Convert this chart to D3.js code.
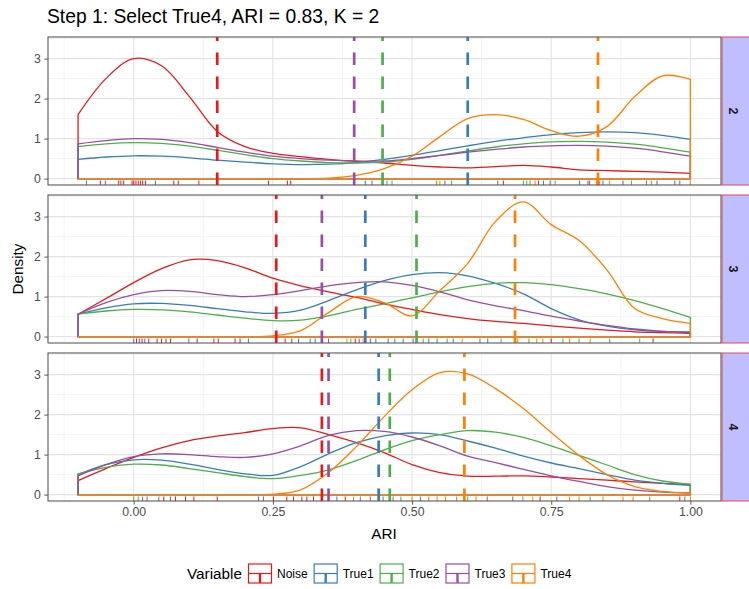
<!DOCTYPE html>
<html>
<head>
<meta charset="utf-8">
<script src="https://cdn.jsdelivr.net/npm/d3@7"></script>
<style>
  body { margin: 0; background: #fff; }
  svg { display: block; font-family: "Liberation Sans", Arial, Helvetica, sans-serif; }
</style>
</head>
<body>
<svg id="chart" width="749" height="589"></svg>
<script>
// ARI densities per K (facets).
const facets = ["2", "3", "4"];
const variables = ["Noise", "True1", "True2", "True3", "True4"];
const palette = ["#E41A1C", "#377EB8", "#4DAF4A", "#984EA3", "#FF7F00"];
const xTicks = [0, 0.25, 0.5, 0.75, 1.0];
const xTickLabels = ["0.00", "0.25", "0.50", "0.75", "1.00"];
const yTicks = [0, 1, 2, 3];

// ARI values at which the density curves were read
const ariGrid = [-0.1, -0.05, 0, 0.05, 0.1, 0.15, 0.2, 0.25, 0.3, 0.35, 0.4, 0.45,
    0.5, 0.55, 0.6, 0.65, 0.7, 0.75, 0.8, 0.85, 0.9, 0.95, 1.0];

// K = 2
const k2Noise = [1.6, 2.5, 3.0, 2.82, 2.05, 1.18, 0.8, 0.63, 0.55, 0.48, 0.43, 0.39, 0.33, 0.29, 0.27, 0.3, 0.33, 0.29, 0.22, 0.2, 0.18, 0.16, 0.13];
const k2True1 = [0.48, 0.54, 0.57, 0.56, 0.52, 0.46, 0.41, 0.37, 0.35, 0.36, 0.4, 0.48, 0.58, 0.7, 0.82, 0.93, 1.02, 1.1, 1.15, 1.17, 1.15, 1.08, 0.98];
const k2True2 = [0.8, 0.87, 0.9, 0.88, 0.81, 0.71, 0.6, 0.5, 0.44, 0.4, 0.39, 0.41, 0.48, 0.58, 0.69, 0.79, 0.87, 0.92, 0.93, 0.91, 0.86, 0.77, 0.66];
const k2True3 = [0.87, 0.95, 1.0, 0.98, 0.9, 0.78, 0.66, 0.56, 0.5, 0.46, 0.44, 0.44, 0.5, 0.58, 0.66, 0.73, 0.79, 0.82, 0.83, 0.81, 0.76, 0.67, 0.56];
const k2True4 = [0, 0, 0, 0, 0, 0, 0, 0, 0, 0.01, 0.08, 0.25, 0.56, 1.05, 1.5, 1.6, 1.48, 1.2, 1.06, 1.3, 2.05, 2.57, 2.48];

// K = 3
const k3Noise = [0.56, 0.95, 1.35, 1.7, 1.92, 1.9, 1.72, 1.46, 1.27, 1.12, 0.98, 0.82, 0.68, 0.55, 0.45, 0.38, 0.33, 0.27, 0.21, 0.16, 0.12, 0.1, 0.08];
const k3True1 = [0.56, 0.72, 0.82, 0.83, 0.78, 0.7, 0.62, 0.58, 0.66, 0.9, 1.17, 1.4, 1.55, 1.6, 1.52, 1.33, 1.07, 0.7, 0.42, 0.26, 0.17, 0.13, 0.12];
const k3True2 = [0.56, 0.64, 0.68, 0.67, 0.62, 0.54, 0.46, 0.4, 0.41, 0.52, 0.68, 0.82, 0.97, 1.12, 1.25, 1.33, 1.35, 1.3, 1.2, 1.07, 0.9, 0.7, 0.48];
const k3True3 = [0.56, 0.85, 1.05, 1.15, 1.13, 1.05, 1.0, 1.05, 1.15, 1.27, 1.35, 1.37, 1.28, 1.12, 0.92, 0.77, 0.65, 0.51, 0.39, 0.28, 0.19, 0.13, 0.1];
const k3True4 = [0, 0, 0, 0, 0, 0, 0, 0.02, 0.15, 0.6, 1.0, 0.85, 0.52, 1.15, 1.83, 2.88, 3.37, 2.8, 2.4, 1.67, 0.7, 0.45, 0.33];

// K = 4
const k4Noise = [0.35, 0.65, 0.93, 1.17, 1.35, 1.46, 1.55, 1.65, 1.67, 1.5, 1.3, 1.05, 0.75, 0.55, 0.46, 0.46, 0.47, 0.44, 0.4, 0.36, 0.32, 0.28, 0.25];
const k4True1 = [0.5, 0.75, 0.87, 0.86, 0.76, 0.63, 0.52, 0.48, 0.7, 1.02, 1.3, 1.47, 1.54, 1.5, 1.34, 1.16, 0.96, 0.79, 0.65, 0.5, 0.36, 0.28, 0.23];
const k4True2 = [0.52, 0.68, 0.76, 0.74, 0.65, 0.55, 0.45, 0.4, 0.48, 0.62, 0.85, 1.12, 1.35, 1.5, 1.6, 1.56, 1.43, 1.22, 0.98, 0.74, 0.5, 0.34, 0.26];
const k4True3 = [0.47, 0.75, 0.95, 1.02, 1.0, 0.95, 0.93, 1.02, 1.22, 1.48, 1.6, 1.58, 1.44, 1.22, 0.96, 0.8, 0.63, 0.47, 0.33, 0.2, 0.11, 0.06, 0.04];
const k4True4 = [0, 0, 0, 0, 0, 0, 0, 0.01, 0.12, 0.55, 1.2, 1.95, 2.62, 3.05, 3.02, 2.65, 2.15, 1.55, 0.98, 0.5, 0.2, 0.08, 0.04];

// Mean ARI per variable (dashed lines), order: Noise, True1..True4
const k2Means = [0.15, 0.6, 0.447, 0.396, 0.834];
const k3Means = [0.256, 0.416, 0.508, 0.338, 0.685];
const k4Means = [0.338, 0.44, 0.46, 0.35, 0.594];

// Individual ARI values (rug)
const k2RugNoise = [-0.06, -0.027, -0.023, -0.018, -0.003, 0, 0.004, 0.008, 0.012, 0.016, 0.021, 0.072, 0.08, 0.117, 0.15, 0.242, 0.276, 0.282, 0.664, 0.727];
const k2RugTrue1 = [-0.085, 0.039, 0.416, 0.6, 0.654, 0.736, 0.748, 0.801, 0.921, 0.94, 0.972];
const k2RugTrue2 = [0.447, 0.455, 0.464, 0.571, 0.7, 0.706, 0.712, 0.757, 0.894];
const k2RugTrue3 = [-0.051, 0.396, 0.428, 0.559, 0.816, 0.819, 0.843, 0.879, 0.981];
const k2RugTrue4 = [0.544, 0.55, 0.721, 0.831, 0.837, 0.855, 0.93, 1.0];

const k3RugNoise = [0.005, 0.015, 0.027, 0.042, 0.05, 0.058, 0.066, 0.114, 0.144, 0.152, 0.182, 0.191, 0.256, 0.272, 0.284, 0.398, 0.75, 0.933];
const k3RugTrue1 = [0.0, 0.02, 0.206, 0.317, 0.326, 0.416, 0.435, 0.469, 0.484, 0.53, 0.545, 0.574, 0.636];
const k3RugTrue2 = [0.39, 0.508, 0.52, 0.563, 0.66, 0.71, 0.771, 0.8, 0.855, 0.909];
const k3RugTrue3 = [0.01, 0.099, 0.296, 0.338, 0.35, 0.405, 0.425, 0.457, 0.502, 0.622];
const k3RugTrue4 = [0.383, 0.412, 0.59, 0.685, 0.69, 0.724, 0.735, 0.783, 0.82];

const k4RugNoise = [0.054, 0.075, 0.093, 0.108, 0.15, 0.251, 0.275, 0.287, 0.302, 0.311, 0.323, 0.338, 0.38, 0.73, 0.981];
const k4RugTrue1 = [0.016, 0.045, 0.233, 0.365, 0.407, 0.44, 0.448, 0.515, 0.681, 0.76];
const k4RugTrue2 = [0.0, 0.008, 0.395, 0.46, 0.48, 0.6, 0.699, 0.82, 0.927];
const k4RugTrue3 = [0.024, 0.066, 0.224, 0.35, 0.425, 0.466, 0.635, 0.99];
const k4RugTrue4 = [0.5, 0.53, 0.545, 0.56, 0.58, 0.594, 0.615, 0.717, 0.783, 0.8, 0.843, 0.879, 0.897, 1.0];

const densities = [
    [k2Noise, k2True1, k2True2, k2True3, k2True4],
    [k3Noise, k3True1, k3True2, k3True3, k3True4],
    [k4Noise, k4True1, k4True2, k4True3, k4True4]
];
const means = [k2Means, k3Means, k4Means];
const rugs = [
    [k2RugNoise, k2RugTrue1, k2RugTrue2, k2RugTrue3, k2RugTrue4],
    [k3RugNoise, k3RugTrue1, k3RugTrue2, k3RugTrue3, k3RugTrue4],
    [k4RugNoise, k4RugTrue1, k4RugTrue2, k4RugTrue3, k4RugTrue4]
];

const PANEL_LEFT = 48, PANEL_RIGHT = 721, PANEL_H = 148;
const panelTops = [37, 195, 353];
const TEXT_GREY = "#4D4D4D";

const svg = d3.select("#chart");
const color = d3.scaleOrdinal().domain(variables).range(palette);
const x = d3.scaleLinear().domain([-0.154, 1.055]).range([PANEL_LEFT, PANEL_RIGHT]);

svg.append("text")
    .attr("x", 47).attr("y", 23)
    .style("font-size", "19.3px").style("fill", "#000")
    .text("Step 1: Select True4, ARI = 0.83, K = 2");

facets.forEach((facet, fi) => {
    const top = panelTops[fi];
    const y = d3.scaleLinear().domain([-0.16, 3.54]).range([top + PANEL_H, top]);
    const g = svg.append("g");

    // grid: minor then major
    const minorX = [-0.125, 0.125, 0.375, 0.625, 0.875];
    const minorY = [0.5, 1.5, 2.5, 3.5];
    g.selectAll(".minx").data(minorX).join("line")
        .attr("x1", d => x(d)).attr("x2", d => x(d))
        .attr("y1", top).attr("y2", top + PANEL_H)
        .attr("stroke", "#EBEBEB").attr("stroke-width", 0.6);
    g.selectAll(".miny").data(minorY).join("line")
        .attr("x1", PANEL_LEFT).attr("x2", PANEL_RIGHT)
        .attr("y1", d => y(d)).attr("y2", d => y(d))
        .attr("stroke", "#EBEBEB").attr("stroke-width", 0.6);
    g.selectAll(".majx").data(xTicks).join("line")
        .attr("x1", d => x(d)).attr("x2", d => x(d))
        .attr("y1", top).attr("y2", top + PANEL_H)
        .attr("stroke", "#E3E3E3").attr("stroke-width", 1.1);
    g.selectAll(".majy").data(yTicks).join("line")
        .attr("x1", PANEL_LEFT).attr("x2", PANEL_RIGHT)
        .attr("y1", d => y(d)).attr("y2", d => y(d))
        .attr("stroke", "#E3E3E3").attr("stroke-width", 1.1);

    // density outlines (closed polygon down to zero, like geom_density)
    const area = d3.area()
        .x(d => x(d[0]))
        .y0(y(0))
        .y1(d => y(d[1]))
        .curve(d3.curveCatmullRom.alpha(0.5));

    variables.forEach((v, vi) => {
        const pts = ariGrid.map((a, i) => [a, densities[fi][vi][i]]);
        g.append("path")
            .attr("d", area(pts))
            .attr("fill", "none")
            .attr("stroke", color(v))
            .attr("stroke-width", 1.3);
    });

    // rugs
    variables.forEach((v, vi) => {
        g.selectAll(null).data(rugs[fi][vi]).join("line")
            .attr("x1", d => x(d)).attr("x2", d => x(d))
            .attr("y1", top + PANEL_H).attr("y2", top + PANEL_H - 4.5)
            .attr("stroke", color(v)).attr("stroke-width", 1);
    });

    // dashed mean lines, drawn bottom to top
    g.selectAll(".mean").data(means[fi]).join("line")
        .attr("x1", d => x(d)).attr("x2", d => x(d))
        .attr("y1", top + PANEL_H).attr("y2", top)
        .attr("stroke", (d, i) => color(variables[i]))
        .attr("stroke-width", 2.7)
        .attr("stroke-dasharray", "12.5,11.5");

    // panel border
    g.append("rect")
        .attr("x", PANEL_LEFT).attr("y", top)
        .attr("width", PANEL_RIGHT - PANEL_LEFT).attr("height", PANEL_H)
        .attr("fill", "none").attr("stroke", "#5A5A5A").attr("stroke-width", 1.1);

    // y axis
    const yAxis = g.append("g")
        .attr("transform", `translate(${PANEL_LEFT},0)`)
        .call(d3.axisLeft(y).tickValues(yTicks).tickSize(3.7).tickPadding(3.5).tickFormat(d3.format("d")));
    yAxis.select(".domain").remove();
    yAxis.selectAll("line").attr("stroke", "#5A5A5A");
    yAxis.selectAll("text").attr("fill", TEXT_GREY).style("font-size", "12.3px").attr("font-family", null);

    // strip on the right
    svg.append("rect")
        .attr("x", PANEL_RIGHT + 1).attr("y", top)
        .attr("width", 40).attr("height", PANEL_H)
        .attr("fill", "#BFBFFF").attr("stroke", "#E0485A").attr("stroke-width", 1);
    svg.append("text")
        .attr("transform", `translate(${733},${top + PANEL_H / 2}) rotate(90)`)
        .attr("text-anchor", "middle").attr("dy", "0.35em")
        .style("font-size", "12.5px").style("font-weight", "bold").style("fill", "#1A1A1A")
        .text(facet);
});

// x axis under the last panel
const bottom = panelTops[2] + PANEL_H;
const xAxis = svg.append("g")
    .attr("transform", `translate(0,${bottom})`)
    .call(d3.axisBottom(x).tickValues(xTicks).tickSize(3.7).tickPadding(3)
        .tickFormat((d, i) => xTickLabels[i]));
xAxis.select(".domain").remove();
xAxis.selectAll("line").attr("stroke", "#5A5A5A");
xAxis.selectAll("text").attr("fill", TEXT_GREY).style("font-size", "12.3px").attr("font-family", null);

// axis titles
svg.append("text")
    .attr("x", 384).attr("y", 538.5)
    .attr("text-anchor", "middle")
    .style("font-size", "15.3px").style("fill", "#000")
    .text("ARI");
svg.append("text")
    .attr("transform", `translate(22.5,${(panelTops[0] + bottom) / 2}) rotate(-90)`)
    .attr("text-anchor", "middle")
    .style("font-size", "15.3px").style("fill", "#000")
    .text("Density");

// legend
const legend = svg.append("g");
const legendY = 564;
const title = legend.append("text")
    .attr("x", 187).attr("y", legendY + 14.5)
    .style("font-size", "15.3px").style("fill", "#000")
    .text("Variable");
let lx = 187 + title.node().getComputedTextLength() + 6;
variables.forEach(v => {
    const key = legend.append("g").attr("transform", `translate(${lx},${legendY})`);
    const kw = 24, kh = 19;
    key.append("rect")
        .attr("x", 0.5).attr("y", 0).attr("width", kw - 1).attr("height", kh)
        .attr("fill", "none").attr("stroke", color(v)).attr("stroke-width", 1.2);
    key.append("line")
        .attr("x1", 0.5).attr("x2", kw - 0.5).attr("y1", kh / 2).attr("y2", kh / 2)
        .attr("stroke", color(v)).attr("stroke-width", 1.2);
    key.append("line")
        .attr("x1", kw / 2).attr("x2", kw / 2).attr("y1", kh).attr("y2", kh / 2)
        .attr("stroke", color(v)).attr("stroke-width", 2.4);
    const label = legend.append("text")
        .attr("x", lx + kw + 5).attr("y", legendY + 13.5)
        .style("font-size", "12px").style("fill", "#000")
        .text(v);
    lx += kw + 5 + label.node().getComputedTextLength() + 6;
});
</script>
</body>
</html>
